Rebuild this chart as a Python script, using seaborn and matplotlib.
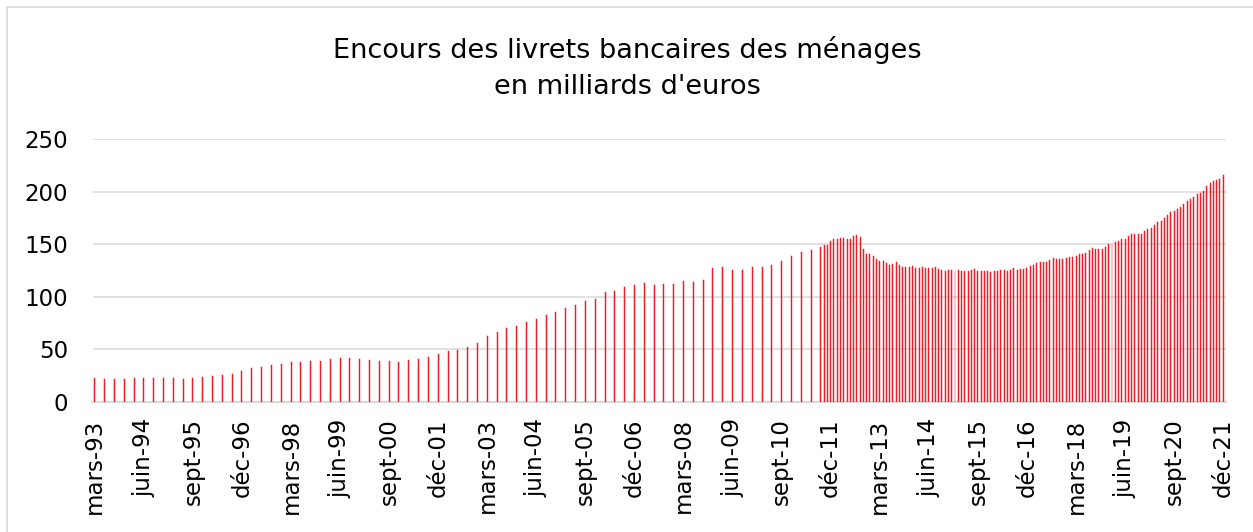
import numpy as np
import pandas as pd
import matplotlib
matplotlib.use("Agg")
import matplotlib.pyplot as plt
import seaborn as sns

# ---- data ----
# quarterly values: mars-93 ... sept-11 (75 quarters)
quarterly_values = [
    22.2, 21.9, 21.6, 21.9, 22.2, 22.2, 22.9, 22.9, 22.5, 21.9,
    22.2, 23.5, 24.4, 25.4, 26.0, 28.9, 31.7, 33.0, 34.9, 35.6,
    37.8, 38.1, 38.7, 39.0, 40.3, 41.6, 41.6, 40.3, 39.4, 38.4,
    38.4, 37.8, 39.4, 40.3, 42.2, 45.1, 48.3, 49.5, 52.4, 55.6,
    62.2, 66.3, 69.8, 71.7, 75.9, 78.4, 82.5, 85.4, 89.5, 92.1,
    95.9, 98.1, 104.4, 105.4, 109.2, 111.1, 113.0, 111.1, 112.1, 111.7,
    114.6, 114.0, 115.9, 127.3, 128.3, 125.7, 125.7, 128.3, 128.3, 130.5,
    134.0, 138.7, 142.5, 144.4, 147.3,
]
# monthly values: oct-11 ... déc-21 (123 months)
monthly_values = [
    149.2, 149.2, 152.7,
    154.9, 154.9, 155.6, 155.9, 154.9, 155.2, 157.5, 158.7, 156.8, 145.4, 140.6, 140.6,
    138.4, 135.9, 134.0, 134.0, 132.4, 130.5, 131.1, 132.7, 130.5, 128.6, 128.3, 128.6,
    128.9, 127.6, 127.6, 128.3, 127.3, 127.0, 127.6, 128.6, 126.7, 125.4, 124.4, 125.4,
    125.1, 124.4, 125.1, 124.8, 124.4, 124.1, 125.4, 126.3, 124.4, 124.1, 124.4, 124.4,
    123.8, 124.1, 124.4, 125.1, 125.1, 124.1, 125.4, 127.2, 125.7, 126.0, 126.0, 127.3,
    129.2, 129.8, 131.7, 132.7, 133.0, 133.0, 134.6, 136.8, 135.6, 135.9, 135.9, 136.5,
    138.1, 138.1, 139.0, 140.3, 140.6, 141.3, 144.1, 146.0, 145.1, 145.1, 145.4, 147.6,
    149.8, 150.5, 151.7, 153.3, 154.6, 154.9, 157.8, 160.0, 159.4, 160.0, 160.0, 162.5,
    164.8, 165.7, 167.9, 170.8, 172.4, 174.6, 177.5, 180.3, 181.6, 183.2, 185.1, 188.6,
    190.8, 192.7, 194.9, 197.5, 199.0, 200.6, 204.8, 208.6, 209.8, 211.4, 212.1, 215.6,
]
tick_labels = ["mars-93", "juin-94", "sept-95", "déc-96", "mars-98", "juin-99",
               "sept-00", "déc-01", "mars-03", "juin-04", "sept-05", "déc-06",
               "mars-08", "juin-09", "sept-10", "déc-11", "mars-13", "juin-14",
               "sept-15", "déc-16", "mars-18", "juin-19", "sept-20", "déc-21"]
title_lines = ["Encours des livrets bancaires des ménages", "en milliards d'euros"]

# month index since mars-93
q_months = [3 * i for i in range(len(quarterly_values))]
m_start = q_months[-1] + 1
m_months = [m_start + i for i in range(len(monthly_values))]
df = pd.DataFrame({
    "month": q_months + m_months,
    "value": quarterly_values + monthly_values,
})
tick_pos = [15 * i for i in range(len(tick_labels))]

# ---- plot ----
sns.set_theme(style="white")
plt.rcParams["font.family"] = ["DejaVu Sans"]
W, H = 1253, 532
RED = "#EE1C25"
fig = plt.figure(figsize=(W / 100, H / 100), dpi=100)
ax = fig.add_axes([93.3 / W, 1 - 401.7 / H, (1225.5 - 93.3) / W, (401.7 - 139) / H])

sns.barplot(data=df, x="month", y="value", native_scale=True, width=0.3,
            color=RED, saturation=1, errorbar=None, ax=ax,
            edgecolor=RED, linewidth=0.35, zorder=3)

ax.set_xlim(-0.45, 345.7)
ax.set_ylim(0, 250)
ax.set_yticks([0, 50, 100, 150, 200, 250])
ax.set_xticks(tick_pos)
ax.set_xticklabels(tick_labels, rotation=90)
ax.set_xlabel("")
ax.set_ylabel("")
ax.grid(axis="y", color="#D9D9D9", linewidth=1.1, zorder=0)
ax.grid(axis="x", visible=False)
for s in ["top", "right", "left"]:
    ax.spines[s].set_visible(False)
ax.spines["bottom"].set_color("#D9D9D9")
ax.spines["bottom"].set_linewidth(1.5)
ax.tick_params(axis="both", length=0, labelsize=16.5, colors="black")
ax.tick_params(axis="x", pad=12)
ax.tick_params(axis="y", pad=18)

fig.text(627 / W, 1 - 50 / H, title_lines[0], ha="center", va="center",
         fontsize=19.5, color="black")
fig.text(627 / W, 1 - 87 / H, title_lines[1], ha="center", va="center",
         fontsize=19.5, color="black")

# chart area border (left and top visible)
fig.add_artist(plt.Line2D([7 / W, 7 / W], [0, 1 - 7 / H], transform=fig.transFigure,
                          color="#D9D9D9", linewidth=1.2))
fig.add_artist(plt.Line2D([7 / W, 1], [1 - 7 / H, 1 - 7 / H], transform=fig.transFigure,
                          color="#D9D9D9", linewidth=1.2))

fig.savefig("out.png", dpi=100)
